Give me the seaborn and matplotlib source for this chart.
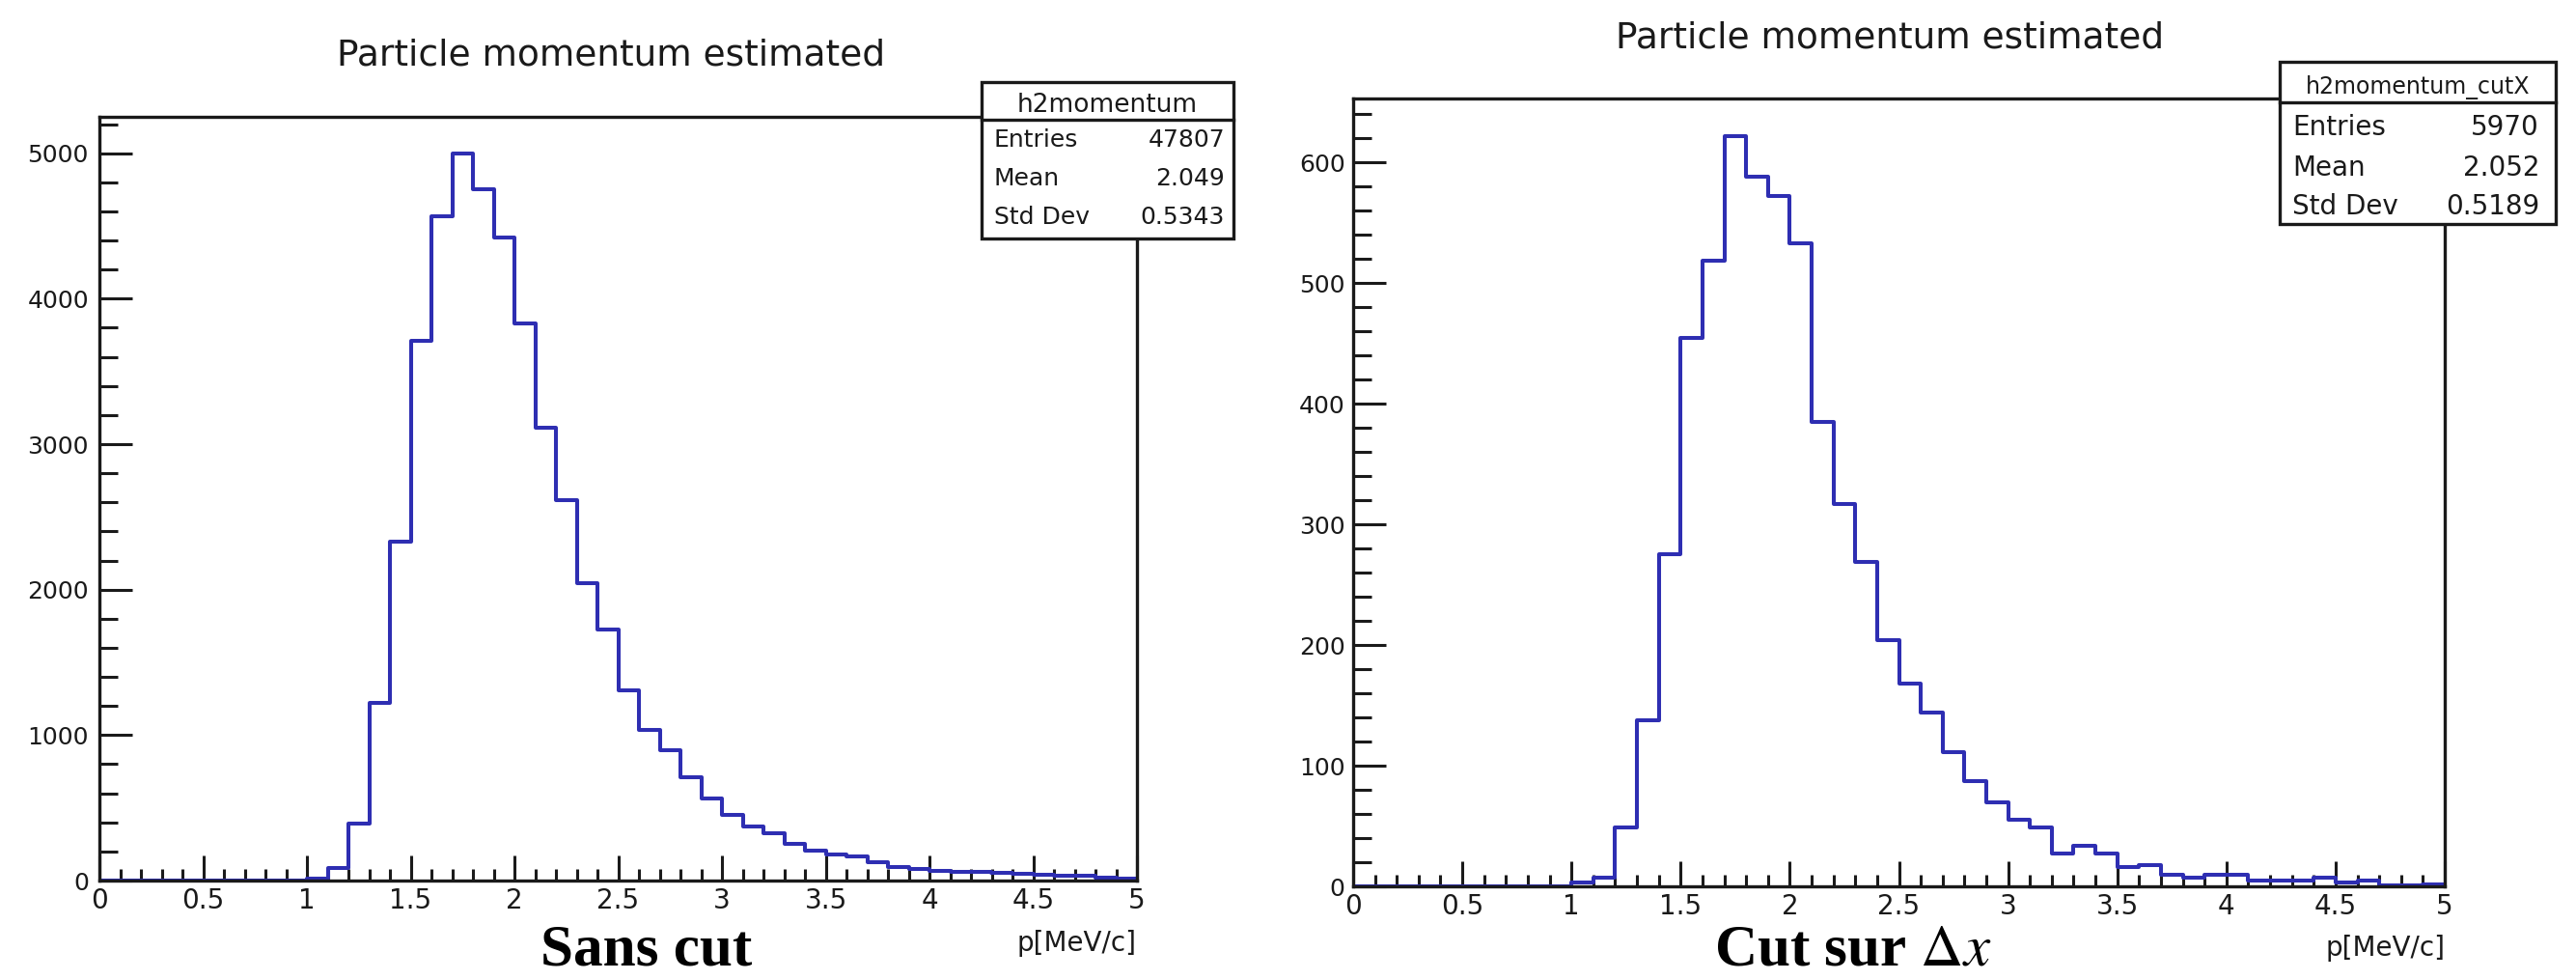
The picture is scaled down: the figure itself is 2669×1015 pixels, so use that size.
import numpy as np
import pandas as pd
import matplotlib
matplotlib.use("Agg")
import matplotlib.pyplot as plt
from matplotlib.ticker import MultipleLocator, FuncFormatter
from matplotlib.patches import Rectangle
from matplotlib.lines import Line2D
import seaborn as sns

# ---------------- data ----------------
bin_edges = np.round(np.arange(0, 5.0001, 0.1), 2)
bin_centers = np.round(bin_edges[:-1] + 0.05, 3)

counts_nocut = [0, 0, 0, 0, 0, 0, 0, 0, 0, 0,
                10, 85, 391, 1224, 2327, 3707, 4565, 5000, 4755, 4422,
                3827, 3116, 2612, 2041, 1728, 1306, 1037, 895, 707, 561,
                449, 374, 323, 255, 204, 180, 163, 129, 90, 82,
                68, 62, 58, 54, 45, 38, 34, 30, 20, 15]

counts_cutx = [0, 0, 0, 0, 0, 0, 0, 0, 0, 0,
               3, 7, 49, 138, 275, 455, 519, 622, 588, 572,
               533, 385, 317, 269, 204, 168, 144, 111, 87, 70,
               55, 49, 27, 34, 27, 16, 18, 10, 7, 10,
               10, 5, 5, 5, 7, 3, 5, 1, 1, 2]

hist_names = ["h2momentum", "h2momentum_cutX"]
stat_labels = ["Entries", "Mean", "Std Dev"]
stat_values_nocut = ["47807", "2.049", "0.5343"]
stat_values_cutx = ["5970", "2.052", "0.5189"]
plot_title = "Particle momentum estimated"
x_label = "p[MeV/c]"
captions = ["Sans cut", r"Cut sur $\Delta x$"]

# ---------------- figure ----------------
W, H = 2669, 1015
fig = plt.figure(figsize=(W / 100, H / 100), dpi=100)
plt.rcParams["mathtext.fontset"] = "stix"
plt.rcParams["font.family"] = ["DejaVu Sans"]

line_color = "#2e2eb2"
ink = "#1a1a1a"

def px_rect(x0, y0, x1, y1):
    """pixel box (top-left origin) -> figure fraction [l, b, w, h]"""
    return [x0 / W, (H - y1) / H, (x1 - x0) / W, (y1 - y0) / H]

panels = [
    dict(counts=counts_nocut, rect=px_rect(103, 121, 1178, 912),
         ymajor=1000, yminor=200, name=hist_names[0], vals=stat_values_nocut,
         box=(1017, 85, 1278, 247, 124), val_pad=9, title_x=633, title_y=68,
         xlab_y=985, title_base=116, rows=(152, 192, 232), fs_box=18, fs_name=19,
         cap_x=670, ypad=8),
    dict(counts=counts_cutx, rect=px_rect(1402, 102, 2533, 918),
         ymajor=100, yminor=20, name=hist_names[1], vals=stat_values_cutx,
         box=(2362, 64, 2648, 232, 106), val_pad=17, title_x=1958, title_y=50,
         xlab_y=990, title_base=97, rows=(140, 182, 222), fs_box=20, fs_name=17,
         cap_x=1920, ypad=6),
]

fmt = FuncFormatter(lambda v, p: f"{v:g}")

for i, pnl in enumerate(panels):
    ax = fig.add_axes(pnl["rect"])
    df = pd.DataFrame({"p": bin_centers, "n": pnl["counts"]})
    sns.histplot(data=df, x="p", weights="n", binwidth=0.1, binrange=(0, 5),
                 element="step", fill=False, color=line_color, linewidth=2.9,
                 ax=ax)
    ax.set_xlim(0, 5)
    ax.set_ylim(0, 1.05 * max(pnl["counts"]))
    ax.set_xlabel("")
    ax.set_ylabel("")
    ax.xaxis.set_major_locator(MultipleLocator(0.5))
    ax.xaxis.set_minor_locator(MultipleLocator(0.1))
    ax.yaxis.set_major_locator(MultipleLocator(pnl["ymajor"]))
    ax.yaxis.set_minor_locator(MultipleLocator(pnl["yminor"]))
    ax.xaxis.set_major_formatter(fmt)
    ax.yaxis.set_major_formatter(fmt)
    ax.tick_params(axis="both", which="both", direction="in", top=False,
                   right=False, width=2.2, color=ink, labelcolor=ink)
    ax.tick_params(axis="x", which="major", length=18.5, labelsize=20, pad=5)
    ax.tick_params(axis="x", which="minor", length=8.6)
    ax.tick_params(axis="y", which="major", length=24.5, labelsize=18,
                   pad=pnl["ypad"])
    ax.tick_params(axis="y", which="minor", length=14)
    for s in ax.spines.values():
        s.set_linewidth(2.4)
        s.set_color(ink)
    ax.set_facecolor("white")
    ax.grid(False)

    # x label (ROOT style, right aligned under axis end)
    x1px = (pnl["rect"][0] + pnl["rect"][2]) * W
    fig.text(x1px / W, 1 - pnl["xlab_y"] / H, x_label, ha="right", va="baseline",
             fontsize=20, color=ink)

    # title
    fig.text(pnl["title_x"] / W, 1 - pnl["title_y"] / H, plot_title,
             ha="center", va="baseline", fontsize=27, color=ink)

    # stats box
    bx0, by0, bx1, by1, bsep = pnl["box"]
    fig.patches.append(Rectangle((bx0 / W, 1 - by1 / H), (bx1 - bx0) / W,
                                 (by1 - by0) / H, transform=fig.transFigure,
                                 facecolor="white", edgecolor=ink,
                                 linewidth=2.4, zorder=5))
    fig.lines.append(Line2D([bx0 / W, bx1 / W], [1 - bsep / H, 1 - bsep / H],
                            transform=fig.transFigure, color=ink,
                            linewidth=2.4, zorder=6))
    fig.text((bx0 + bx1) / 2 / W, 1 - pnl["title_base"] / H, pnl["name"],
             ha="center", va="baseline", fontsize=pnl["fs_name"],
             color=ink, zorder=7)
    for lab, val, yb in zip(stat_labels, pnl["vals"], pnl["rows"]):
        fig.text((bx0 + 13) / W, 1 - yb / H, lab, ha="left", va="baseline",
                 fontsize=pnl["fs_box"], color=ink, zorder=7)
        fig.text((bx1 - pnl["val_pad"]) / W, 1 - yb / H, val, ha="right",
                 va="baseline", fontsize=pnl["fs_box"], color=ink, zorder=7)

    # caption
    fig.text(pnl["cap_x"] / W, 3 / H, captions[i], ha="center",
             va="bottom", fontsize=44, fontweight="bold",
             family=["Liberation Serif"], color="black")

fig.savefig("out.png", dpi=100, facecolor="white")
